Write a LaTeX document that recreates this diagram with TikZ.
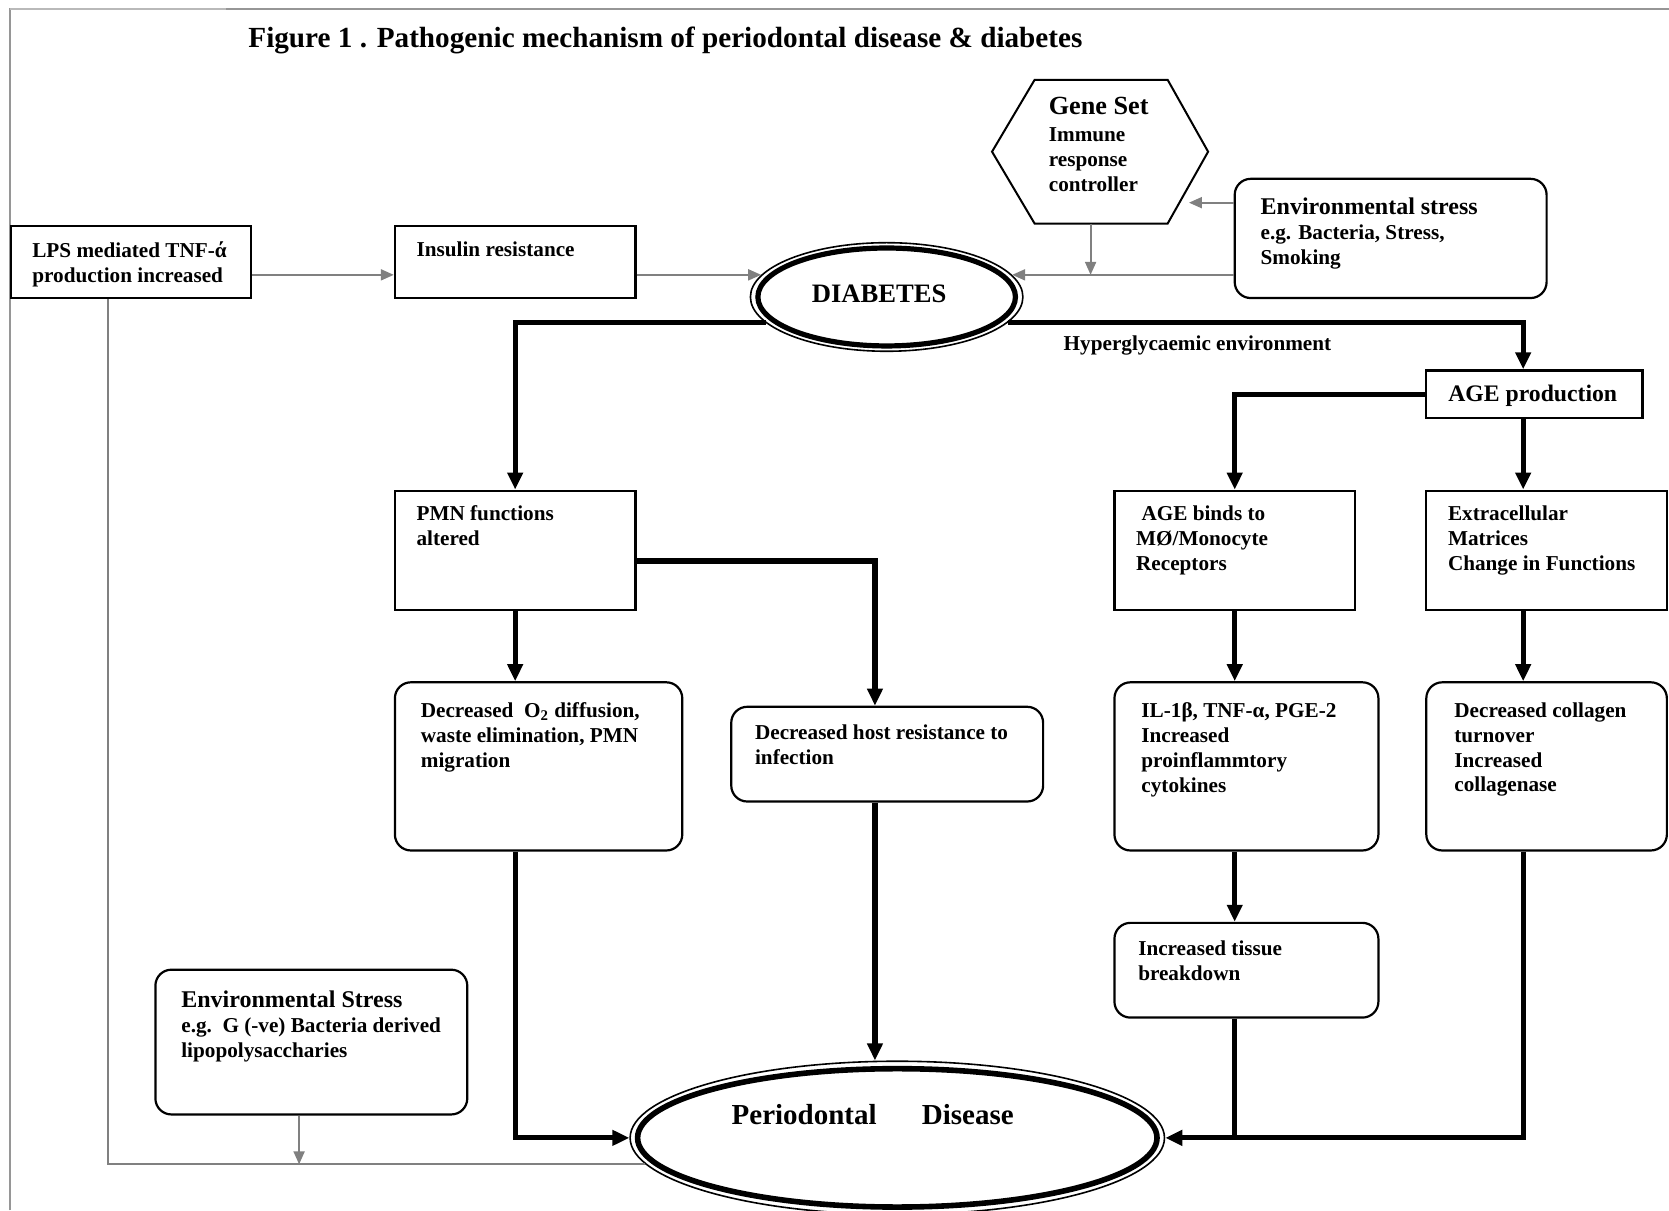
\documentclass[tikz,border=0pt]{standalone}
\usepackage{fontspec}
\setmainfont{Liberation Serif}
\usetikzlibrary{arrows.meta,shapes.geometric,fit}
\newcommand\pxu{0.5322pt}
\definecolor{linegray}{RGB}{128,128,128}
\definecolor{framegray}{RGB}{150,150,150}
\definecolor{framelight}{RGB}{185,185,185}

\begin{document}
\begin{tikzpicture}[x=0.5322pt,y=-0.5322pt,
  box/.style={draw, line width=1.1pt, inner sep=0pt},
  rbox/.style={box, rounded corners=8pt},
  txt/.style={anchor=north west, inner sep=0pt, align=left,
    font=\fontsize{10.6}{12.4}\selectfont\bfseries},
  lbl/.style={inner sep=0pt, font=\fontsize{10.6}{12.4}\selectfont\bfseries},
  gline/.style={draw=linegray, line width=1pt},
  garrow/.style={gline, -{Triangle[length=6.5pt,width=5.5pt]}},
  bline/.style={line width=2.6pt},
  barrow/.style={bline, -{Triangle[length=8.5pt,width=7.5pt]}},
]
\useasboundingbox (0,0) rectangle (1568,1137);

% frame
\draw[framegray, line width=1pt] (9.5,1137) -- (9.5,8.5) -- (1568,8.5);
\draw[framelight, line width=1pt] (9.5,8.5) -- (212,8.5);

% title
\node[anchor=base west, inner sep=0pt, font=\fontsize{14.6}{16}\selectfont\bfseries]
  (title) at (233,45) {Figure 1 . Pathogenic mechanism of periodontal disease \& diabetes};

% boxes
\node[box, fit={(10.5,212.5) (236,280)}] (lps) {};
\node[box, fit={(371,212.5) (597,280)}] (ins) {};
\node[rbox, fit={(1160,168) (1453,280)}] (env) {};
\node[box, fit={(1340,348) (1543,393)}] (age) {};
\node[box, fit={(371,461) (597,573)}] (pmn) {};
\node[box, fit={(1047,461) (1273,573)}] (ageb) {};
\node[box, fit={(1340,461) (1566,573)}] (extra) {};
\node[rbox, fit={(371,641) (641,799)}] (o2) {};
\node[rbox, fit={(687,664) (980,753)}] (host) {};
\node[rbox, fit={(1047,641) (1295,799)}] (il) {};
\node[rbox, fit={(1340,641) (1566,799)}] (coll) {};
\node[rbox, fit={(1047,867) (1295,956)}] (tiss) {};
\node[rbox, fit={(146,911) (439,1047)}] (envb) {};

% gene set hexagon and its connection points
\draw[line width=1pt, line join=miter] (972,75) -- (1097,75) -- (1135,142.5) -- (1097,210)
  -- (972,210) -- (932,142.5) -- cycle;
\coordinate (hexbot) at (1024.6,210);
\coordinate (hexside) at (1117,190.4);

% ellipses with a double border
\node[draw, ellipse, line width=0.8pt, inner sep=0pt,
  minimum width=256*\pxu, minimum height=102*\pxu] (diab) at (833,279) {};
\draw[line width=2.6pt] (diab.center) ellipse [x radius=121, y radius=46];
\node[draw, ellipse, line width=0.8pt, inner sep=0pt,
  minimum width=502*\pxu, minimum height=144*\pxu] (perio) at (843,1069) {};
\draw[line width=2.8pt] (perio.center) ellipse [x radius=244, y radius=65];

% texts
\node[txt] (lpst) at (30,226.8) {LPS mediated TNF-ά\\production increased};
\node[txt] (inst) at (391,226.8) {Insulin resistance};
\node[txt] (hext) at (985,90.5) {{\fontsize{13.1}{14}\selectfont Gene Set}\\[1.5pt]Immune\\response\\controller};
\node[txt] (envt) at (1184,185.6) {{\fontsize{12}{13}\selectfont Environmental stress}\\e.g. Bacteria, Stress,\\Smoking};
\node[inner sep=0pt, font=\fontsize{13.3}{14}\selectfont\bfseries] (diabt) at (826,276) {DIABETES};
\node[lbl, anchor=base] (hyper) at (1125,329.5) {Hyperglycaemic environment};
\node[inner sep=0pt, anchor=base, font=\fontsize{11.85}{13}\selectfont\bfseries] (aget) at (1440,377.5) {AGE production};
\node[txt] (pmnt) at (391,474.8) {PMN functions\\altered};
\node[txt] (agebt) at (1067,474.8) {\hspace{2.7pt}AGE binds to\\MØ/Monocyte\\Receptors};
\node[txt] (extrat) at (1360,474.8) {Extracellular\\Matrices\\Change in Functions};
\node[txt] (o2t) at (395,659.8) {Decreased\ \ O\textsubscript{2} diffusion,\\waste elimination, PMN\\migration};
\node[txt] (hostt) at (709,680.8) {Decreased host resistance to\\infection};
\node[txt] (ilt) at (1072,659.8) {IL-1β, TNF-α, PGE-2\\Increased\\proinflammtory\\cytokines};
\node[txt] (collt) at (1366,659.8) {Decreased collagen\\turnover\\Increased\\collagenase};
\node[txt] (tisst) at (1069,883.8) {Increased tissue\\breakdown};
\node[txt] (envbt) at (170,930.6) {{\fontsize{12}{13}\selectfont Environmental Stress}\\e.g.\ \ G (-ve) Bacteria derived\\lipopolysaccharies};
\node[anchor=base west, inner sep=0pt, font=\fontsize{14.5}{16}\selectfont\bfseries]
  (periot) at (687,1056.5) {Periodontal\hspace{22.6pt}Disease};

% connector columns
\coordinate (agecol) at (1431,0);
\coordinate (hostcol) at (822,0);
\coordinate (lpscol) at (101,0);
\coordinate (envcol) at (281,0);

% grey connectors
\draw[garrow] (lps.east |- diab.170) -- (ins.west |- diab.170);
\draw[garrow] (ins.east |- diab.170) -- (diab.170);
\draw[garrow] (env.west |- diab.10) -- (diab.10);
\draw[garrow] (hexbot) -- (hexbot |- diab.10);
\draw[garrow] (env.west |- hexside) -- (hexside);
\draw[gline] (lpscol |- lps.south) |- (perio.186);
\draw[garrow] (envcol |- envb.south) -- (envcol |- perio.186);

% black connectors
\draw[barrow] (diab.192) -| (pmn.north);
\draw[barrow] (diab.-12) -| (agecol |- age.north);
\draw[barrow] (age.west) -| (ageb.north);
\draw[barrow] (agecol |- age.south) -- (agecol |- extra.north);
\draw[barrow] (pmn.south) -- (pmn.south |- o2.north);
\draw[barrow] (pmn.east |- 0,527) -| (hostcol |- host.north);
\draw[barrow] (ageb.south) -- (ageb.south |- il.north);
\draw[barrow] (agecol |- extra.south) -- (agecol |- coll.north);
\draw[barrow] (ageb.south |- il.south) -- (ageb.south |- tiss.north);
\draw[barrow] (hostcol |- host.south) -- (hostcol |- perio.north);
\draw[barrow] (pmn.south |- o2.south) |- (perio.west);
\draw[bline] (ageb.south |- tiss.south) -- (ageb.south |- perio.east);
\draw[barrow] (agecol |- coll.south) |- (perio.east);
\end{tikzpicture}
\end{document}
